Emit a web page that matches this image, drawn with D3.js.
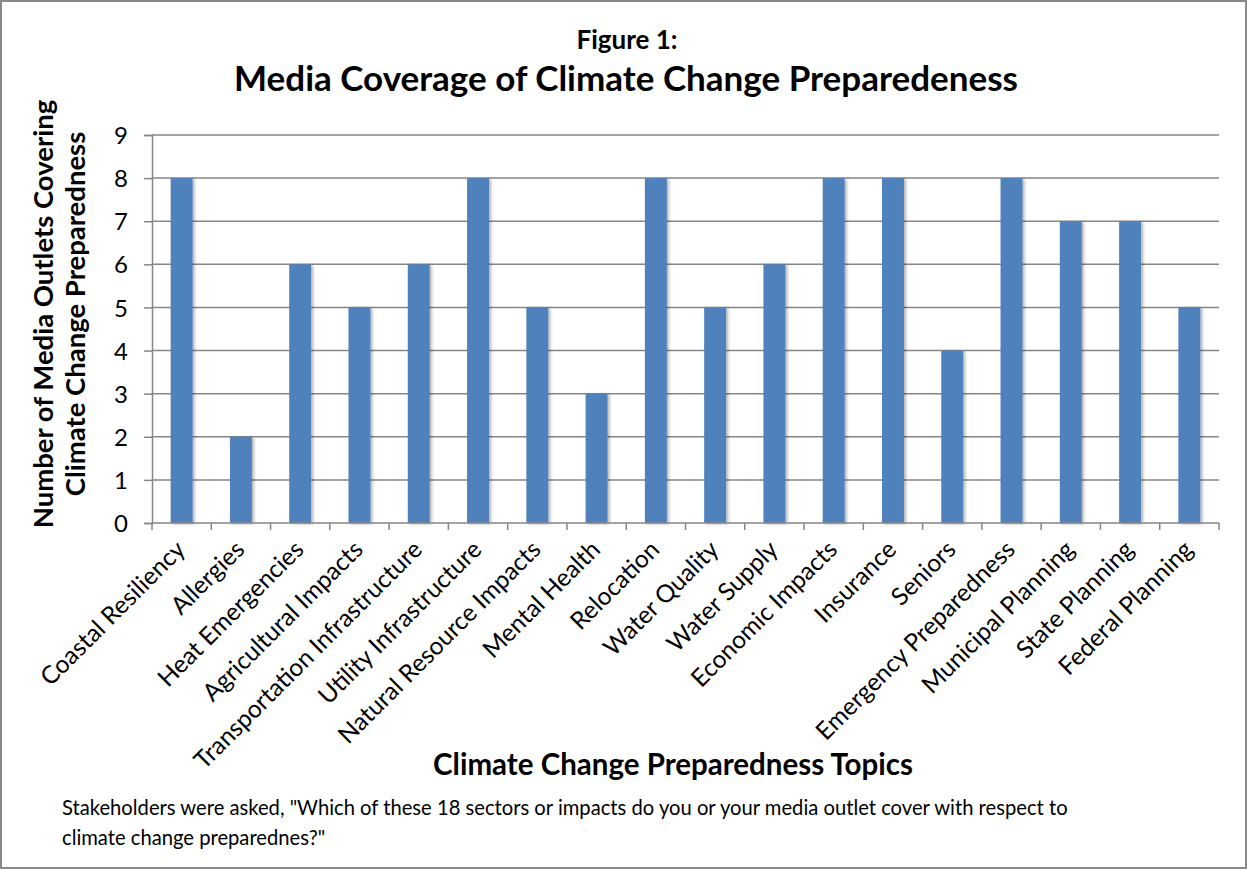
<!DOCTYPE html>
<html>
<head>
<meta charset="utf-8">
<script src="https://cdn.jsdelivr.net/npm/d3@7"></script>
<style>
  body { margin: 0; background: #fff; }
  svg { display: block; font-family: Lato, "Open Sans", sans-serif; }
  .tick text { fill: #000; }
</style>
</head>
<body>
<div id="chart"></div>
<script>
// Chart data
var topics = ["Coastal Resiliency", "Allergies", "Heat Emergencies", "Agricultural Impacts",
  "Transportation Infrastructure", "Utility Infrastructure", "Natural Resource Impacts",
  "Mental Health", "Relocation", "Water Quality", "Water Supply", "Economic Impacts",
  "Insurance", "Seniors", "Emergency Preparedness", "Municipal Planning",
  "State Planning", "Federal Planning"];
var outlets = [8, 2, 6, 5, 6, 8, 5, 3, 8, 5, 6, 8, 8, 4, 8, 7, 7, 5];
var yTicks = [0, 1, 2, 3, 4, 5, 6, 7, 8, 9];

var figureLabel = "Figure 1:";
var chartTitle = "Media Coverage of Climate Change Preparedeness";
var yTitle = ["Number of Media Outlets Covering", "Climate Change Preparedness"];
var xTitle = "Climate Change Preparedness Topics";
var footnote = ["Stakeholders were asked, \"Which of these 18 sectors or impacts do you or your media outlet cover with respect to",
  "climate change preparednes?\""];

///////////  SVG  ///////////
var svgWidth = 1247;
var svgHeight = 869;

var margin = { top: 135, right: 28, bottom: 346, left: 152 };
var chartWidth = svgWidth - margin.left - margin.right;
var chartHeight = svgHeight - margin.top - margin.bottom;

var svg = d3.select("#chart").append("svg")
  .attr("width", svgWidth)
  .attr("height", svgHeight);

// outer frame
svg.append("rect")
  .attr("x", 1).attr("y", 1)
  .attr("width", svgWidth - 2).attr("height", svgHeight - 2)
  .attr("fill", "#fff")
  .attr("stroke", "#898989")
  .attr("stroke-width", 2);

// soft shadow behind bars
var defs = svg.append("defs");
defs.append("filter").attr("id", "barShadow")
  .attr("x", "-30%").attr("y", "-5%").attr("width", "160%").attr("height", "110%")
  .append("feDropShadow")
  .attr("dx", 2).attr("dy", 1).attr("stdDeviation", 1.5)
  .attr("flood-color", "#000").attr("flood-opacity", 0.3);

var chartGrp = svg.append("g")
  .attr("transform", `translate(${margin.left}, ${margin.top})`);

///////////  Scales  ///////////
var xScale = d3.scaleBand()
  .domain(topics)
  .range([0, chartWidth])
  .paddingInner(0.63)
  .paddingOuter(0.315);

var yScale = d3.scaleLinear()
  .domain([0, 9])
  .range([chartHeight, 0]);

// gridlines
chartGrp.append("g")
  .selectAll("line")
  .data(yTicks.filter(d => d > 0))
  .enter().append("line")
  .attr("x1", 0).attr("x2", chartWidth)
  .attr("y1", d => yScale(d)).attr("y2", d => yScale(d))
  .attr("stroke", "#868686")
  .attr("stroke-width", 1.5);

// y axis
var leftAxis = d3.axisLeft(yScale).tickValues(yTicks).tickSize(8).tickPadding(16);
var yAxis = chartGrp.append("g").call(leftAxis).attr("font-family", null);
yAxis.select(".domain").attr("stroke", "#868686").attr("stroke-width", 1.5);
yAxis.selectAll(".tick line").attr("stroke", "#868686").attr("stroke-width", 1.5);
yAxis.selectAll(".tick text").attr("font-size", 24).attr("dy", "0.36em");

// bars
chartGrp.selectAll(".bar")
  .data(outlets)
  .enter().append("rect")
  .attr("class", "bar")
  .attr("x", (d, i) => xScale(topics[i]))
  .attr("y", d => yScale(d))
  .attr("width", xScale.bandwidth())
  .attr("height", d => chartHeight - yScale(d))
  .attr("fill", "#4F81BD")
  .attr("filter", "url(#barShadow)");

// x axis line and boundary ticks
var step = xScale.step();
var xAxis = chartGrp.append("g").attr("transform", `translate(0, ${chartHeight})`);
xAxis.append("line")
  .attr("x1", 0).attr("x2", chartWidth)
  .attr("stroke", "#868686").attr("stroke-width", 1.5);
xAxis.selectAll(".xtick")
  .data(d3.range(topics.length + 1))
  .enter().append("line")
  .attr("class", "xtick")
  .attr("x1", i => i * step).attr("x2", i => i * step)
  .attr("y1", 0).attr("y2", 7)
  .attr("stroke", "#868686").attr("stroke-width", 1.5);

// rotated category labels
xAxis.selectAll(".xlabel")
  .data(topics)
  .enter().append("text")
  .attr("class", "xlabel")
  .attr("text-anchor", "end")
  .attr("font-size", 24.5)
  .attr("transform", d => `translate(${xScale(d) + xScale.bandwidth() / 2 + 5}, 28) rotate(-45)`)
  .text(d => d);

///////////  Titles  ///////////
svg.append("text")
  .attr("x", 627).attr("y", 49)
  .attr("text-anchor", "middle")
  .attr("font-weight", "bold")
  .attr("font-size", 26)
  .text(figureLabel);

svg.append("text")
  .attr("x", 626).attr("y", 91)
  .attr("text-anchor", "middle")
  .attr("font-weight", "bold")
  .attr("font-size", 35)
  .text(chartTitle);

var yTitleGrp = svg.append("g")
  .attr("transform", "translate(0, 314) rotate(-90)");
yTitleGrp.selectAll("text")
  .data(yTitle)
  .enter().append("text")
  .attr("x", 0)
  .attr("y", (d, i) => 53 + i * 32)
  .attr("text-anchor", "middle")
  .attr("font-weight", "bold")
  .attr("font-size", 27.5)
  .text(d => d);

svg.append("text")
  .attr("x", 673).attr("y", 775)
  .attr("text-anchor", "middle")
  .attr("font-weight", "bold")
  .attr("font-size", 29.5)
  .text(xTitle);

svg.selectAll(".footnote")
  .data(footnote)
  .enter().append("text")
  .attr("class", "footnote")
  .attr("x", 62)
  .attr("y", (d, i) => 815 + i * 30)
  .attr("font-size", 20.2)
  .text(d => d);
</script>
</body>
</html>
